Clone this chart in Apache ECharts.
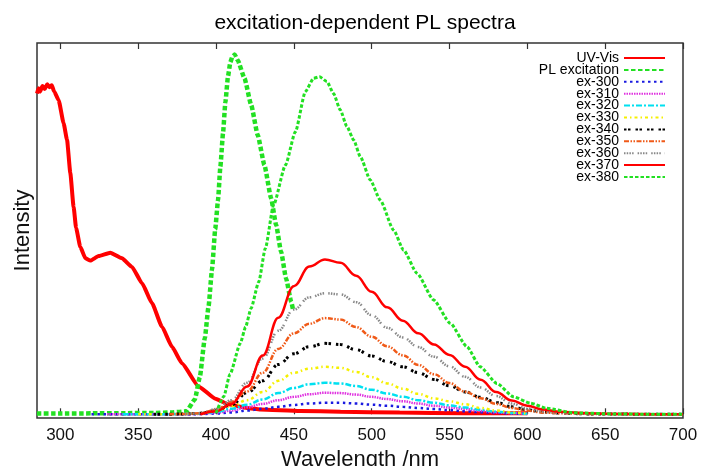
<!DOCTYPE html>
<html>
<head>
<meta charset="utf-8">
<script src="https://cdn.jsdelivr.net/npm/echarts@6/dist/echarts.min.js"></script>
<style>html,body{margin:0;padding:0;background:#fff;}#c{width:706px;height:466px;}</style>
</head>
<body>
<div id="c"></div>
<script>
const xTicks = [300, 350, 400, 450, 500, 550, 600, 650, 700];

const uvX = [285, 286, 287, 288.5, 290, 291.5, 293, 294.5, 296, 298.9, 302.1, 304.3, 306.4, 308.5, 310.1, 312.8, 316.1, 319.3, 324.6, 332.1, 339.6, 346, 352.5, 358.9, 365.3, 371.7, 378.2, 388.8, 399.6, 408.1, 419.9, 428.5, 454, 480, 518, 560, 600];
const uvY = [86.4, 87.8, 86.9, 88.4, 87.6, 88.9, 88.1, 88.6, 87.0, 84.6, 78.4, 73.9, 65.0, 55.9, 50.2, 45.1, 42.0, 41.4, 42.6, 43.5, 42.0, 39.7, 35.3, 29.9, 23.6, 18.2, 13.7, 7.5, 4.2, 2.7, 1.7, 1.3, 0.9, 0.7, 0.45, 0.3, 0.25];

const plX = [285, 300, 320, 340, 360, 372, 381, 386.4, 389.6, 392.8, 395.2, 397.4, 399.5, 401.3, 402.8, 404.5, 406, 407.7, 409.2, 410.5, 412, 414, 418.3, 422.6, 426.8, 431.1, 435.4, 438.6, 441.8, 445, 448.3, 449.5];
const plY = [0.2, 0.2, 0.25, 0.3, 0.35, 0.5, 0.8, 4.0, 10.0, 20.5, 29.0, 38.9, 49.9, 57.7, 66.7, 75.7, 84.0, 91.0, 94.8, 96.3, 96.9, 95.3, 90.5, 83.3, 75.2, 67.1, 58.2, 51.0, 43.8, 36.6, 30.3, 28.1];

const emWl = [320, 330, 340, 350, 360, 370, 380, 390, 400, 410, 420, 430, 440, 450, 460, 470, 480, 490, 500, 510, 520, 530, 540, 550, 560, 570, 580, 590, 600, 610, 620, 640, 660, 680, 700];
const ex300Y = [0, 0, 0, 0, 0, 0, 0, 0.05, 0.2, 0.5, 1.0, 1.5, 2.0, 2.5, 2.9, 3.1, 3.1, 2.9, 2.6, 2.3, 2.0, 1.7, 1.4, 1.1, 0.8, 0.55, 0.35, 0.2, 0.1, null, null, null, null, null, null];
const ex310Y = [null, 0, 0, 0, 0, 0, 0, 0.1, 0.4, 1.0, 1.9, 2.8, 3.8, 4.7, 5.4, 5.8, 5.7, 5.3, 4.7, 4.1, 3.5, 2.9, 2.3, 1.8, 1.4, 0.9, 0.5, 0.3, 0.1, null, null, null, null, null, null];
const ex320Y = [null, null, 0, 0, 0, 0, 0.1, 0.2, 0.6, 1.5, 2.6, 4.0, 5.7, 7.1, 8.1, 8.5, 8.3, 7.6, 6.6, 5.6, 4.7, 3.8, 3.1, 2.4, 1.8, 1.2, 0.7, 0.35, 0.15, null, null, null, null, null, null];
const ex330Y = [null, null, null, 0, 0, 0, 0.1, 0.3, 0.9, 2.2, 3.8, 6.0, 9.0, 11.2, 12.3, 12.8, 12.5, 11.4, 10.0, 8.3, 6.9, 5.5, 4.3, 3.5, 2.7, 1.7, 1.0, 0.5, 0.2, null, null, null, null, null, null];
const ex340Y = [null, null, null, null, 0, 0, 0.1, 0.3, 1.0, 2.6, 5.8, 9.0, 13.4, 16.3, 18.2, 19.1, 18.8, 17.4, 15.7, 14.2, 12.8, 11.2, 9.4, 7.7, 6.0, 4.6, 3.2, 2.0, 1.2, 0.6, 0.35, 0.1, 0.05, 0, 0];
const ex350Y = [null, null, null, null, null, 0, 0.1, 0.3, 1.2, 3.4, 6.2, 11.2, 17.6, 21.8, 24.4, 25.9, 25.5, 23.5, 20.9, 18.3, 15.9, 13.3, 10.8, 8.4, 6.1, 4.3, 2.8, 1.7, 1.0, 0.5, 0.3, 0.1, 0.05, 0, 0];
const ex360Y = [null, null, null, null, null, null, 0, 0.3, 1.4, 3.8, 8.5, 15.0, 22.5, 28.2, 31.5, 32.6, 32.3, 30.2, 26.7, 23.3, 20.7, 18.1, 15.5, 12.9, 10.1, 7.2, 4.9, 2.9, 1.5, 0.7, 0.4, 0.15, 0.06, 0.02, 0];
const ex370Y = [null, null, null, null, null, null, null, 0, 0.8, 2.8, 7.5, 15.8, 26.0, 34.5, 39.8, 41.7, 40.8, 37.3, 33.0, 28.8, 25.2, 21.8, 18.8, 16.0, 12.8, 9.3, 6.0, 3.7, 2.3, 1.3, 0.7, 0.25, 0.1, 0.03, 0];

const ex380X = [400, 405, 409, 415.6, 419, 422.5, 427.4, 431.7, 437, 444.6, 451, 457.4, 462.7, 466.5, 471.3, 475.5, 479.8, 484.1, 488.4, 492.7, 499.1, 505.5, 514.1, 520.5, 529.1, 539.8, 550.5, 561.2, 569.7, 580.5, 591.1, 601.9, 612.6, 629.7, 655, 680, 700];
const ex380Y = [0.3, 4.8, 10.8, 19.1, 23.5, 28.5, 35.6, 44.7, 56.4, 67.1, 76.1, 86.9, 90.5, 90.9, 89.6, 86.4, 82.0, 77.5, 73.9, 69.4, 63.1, 57.7, 49.6, 44.2, 38.0, 30.8, 24.5, 18.2, 12.8, 8.3, 4.7, 3.0, 1.6, 0.4, 0.1, 0, 0];

function zip(xs, ys) {
  const out = [];
  for (let i = 0; i < xs.length; i++) {
    if (ys[i] !== null && ys[i] !== undefined) out.push([xs[i], ys[i]]);
  }
  return out;
}

const FONT = "'Liberation Sans', Arial, Helvetica, sans-serif";

function mk(name, data, color, width, type, smooth) {
  return {
    name: name, type: 'line', data: data, symbol: 'none', showSymbol: false,
    smooth: smooth === undefined ? 0.4 : smooth, smoothMonotone: 'x',
    lineStyle: { color: color, width: width, type: type, cap: 'butt' },
    itemStyle: { color: color },
    animation: false
  };
}

const series = [
  mk('UV-Vis', zip(uvX, uvY), '#ff0000', 4, 'solid', 0.15),
  mk('PL excitation', zip(plX, plY), '#22e022', 4.5, [4.5, 2.5], 0.15),
  mk('ex-300', zip(emWl, ex300Y), '#1a1ae0', 2.5, [2.5, 3.5]),
  mk('ex-310', zip(emWl, ex310Y), '#e030e0', 2.5, [1.5, 1]),
  mk('ex-320', zip(emWl, ex320Y), '#00e0f0', 2.5, [6, 2, 2, 2]),
  mk('ex-330', zip(emWl, ex330Y), '#f5f000', 2.5, [3, 3, 1.5, 3]),
  mk('ex-340', zip(emWl, ex340Y), '#000000', 3, [2.5, 1.5, 2.5, 5]),
  mk('ex-350', zip(emWl, ex350Y), '#f05a18', 2.5, [5, 1.5, 1.5, 1.5, 1.5, 1.5]),
  mk('ex-360', zip(emWl, ex360Y), '#888888', 2.5, [1.5, 1.2, 1.5, 1.2, 1.5, 1.2, 1.5, 4]),
  mk('ex-370', zip(emWl, ex370Y), '#ff0000', 2.5, 'solid'),
  mk('ex-380', zip(ex380X, ex380Y), '#22e022', 3, [3.5, 2], 0.2)
];

const chart = echarts.init(document.getElementById('c'), null, { renderer: 'canvas' });
chart.setOption({
  animation: false,
  backgroundColor: '#ffffff',
  textStyle: { fontFamily: FONT },
  title: {
    text: 'excitation-dependent PL spectra',
    left: 360, top: 8, textAlign: 'center',
    textStyle: { fontFamily: FONT, fontSize: 21, fontWeight: 'normal', color: '#000' }
  },
  legend: {
    orient: 'vertical', right: 40, top: 51, align: 'right', padding: 0,
    itemWidth: 41, itemHeight: 12, itemGap: -2.1,
    itemStyle: { opacity: 0 },
    textStyle: { fontFamily: FONT, fontSize: 14, color: '#000', lineHeight: 12 },
    data: series.map(s => s.name)
  },
  grid: {
    left: 37, right: 23, top: 43, bottom: 48,
    outerBoundsMode: 'none', containLabel: false,
    show: true, borderColor: '#333', borderWidth: 1.5, backgroundColor: 'transparent'
  },
  xAxis: [{
    type: 'value', min: 285, max: 700, position: 'bottom',
    axisLine: { show: false },
    splitLine: { show: false },
    axisTick: { show: true, inside: true, length: 6, lineStyle: { color: '#333', width: 1.2 }, customValues: xTicks },
    axisLabel: { show: true, customValues: xTicks, margin: 9, fontSize: 17, color: '#111', fontFamily: FONT },
    name: 'Wavelength /nm', nameLocation: 'middle', nameGap: 30,
    nameTextStyle: { fontSize: 22, color: '#111', fontFamily: FONT }
  }, {
    type: 'value', min: 285, max: 700, position: 'top',
    axisLine: { show: false },
    splitLine: { show: false },
    axisTick: { show: true, inside: true, length: 6, lineStyle: { color: '#333', width: 1.2 }, customValues: xTicks },
    axisLabel: { show: false }
  }],
  yAxis: {
    type: 'value', min: -1, max: 100,
    axisLine: { show: false }, axisTick: { show: false }, axisLabel: { show: false },
    splitLine: { show: false },
    name: 'Intensity', nameLocation: 'middle', nameGap: 3,
    nameTextStyle: { fontSize: 22, color: '#111', fontFamily: FONT }
  },
  series: series
});
</script>
</body>
</html>
